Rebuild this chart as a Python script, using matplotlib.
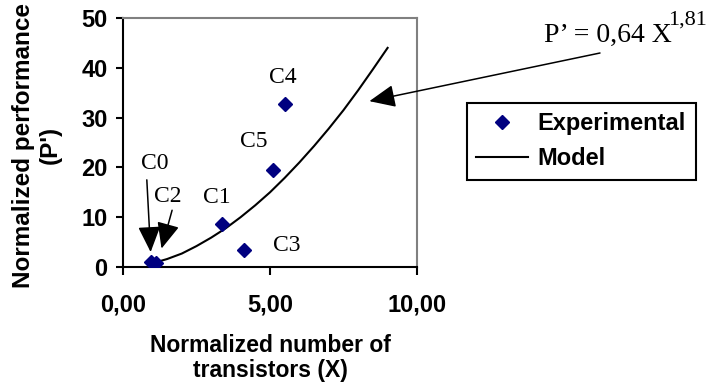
import matplotlib.pyplot as plt
from matplotlib.lines import Line2D
from matplotlib.ticker import FuncFormatter, MultipleLocator

# experimental points
configs = ["C0", "C1", "C2", "C3", "C4", "C5"]
transistors = [0.94, 3.36, 1.12, 4.12, 5.51, 5.11]
performance = [1.0, 8.6, 0.8, 3.4, 32.7, 19.5]

# model curve
model_x = [1, 1.5, 2, 2.5, 3, 3.5, 4, 4.5, 5, 5.5, 6, 6.5, 7, 7.5, 8, 8.5, 9]
model_y = [0.75, 1.6, 2.7, 4.2, 5.9, 7.8, 10.0, 12.4, 15.0, 17.9, 21.0, 24.3,
           27.8, 31.5, 35.5, 39.7, 44.0]

serif = "Liberation Serif"
sans = "Liberation Sans"
navy = "#000080"

fig = plt.figure(figsize=(7.1, 3.87), dpi=100)
ax = fig.add_axes([123 / 710, 120 / 387, 294 / 710, 249 / 387])

ax.plot(model_x, model_y, color="black", lw=1.5, zorder=2)
ax.plot(transistors, performance, linestyle="none", marker="D", markersize=7.5,
        color=navy, zorder=3)

ax.set_xlim(0, 10)
ax.set_ylim(0, 50)
ax.xaxis.set_major_locator(MultipleLocator(5))
ax.yaxis.set_major_locator(MultipleLocator(10))
ax.xaxis.set_major_formatter(FuncFormatter(lambda v, p: f"{v:.2f}".replace(".", ",")))
ax.yaxis.set_major_formatter(FuncFormatter(lambda v, p: f"{v:.0f}"))

for lab in ax.get_xticklabels() + ax.get_yticklabels():
    lab.set_fontfamily(sans)
    lab.set_fontweight("bold")
    lab.set_fontsize(17)
ax.tick_params(axis="x", length=6, width=1.5, pad=13, direction="out")
ax.tick_params(axis="y", length=5, width=1.5, pad=6, direction="out")

for s in ["left", "bottom"]:
    ax.spines[s].set_color("black")
    ax.spines[s].set_linewidth(1.5)
for s in ["top", "right"]:
    ax.spines[s].set_color("#808080")
    ax.spines[s].set_linewidth(1.5)

# point labels
label_pos = {"C0": (1.09, 20.7), "C1": (3.2, 14.0), "C2": (1.53, 14.2),
             "C3": (5.58, 4.4), "C4": (5.44, 38.0), "C5": (4.46, 25.3)}
for name in configs:
    x, y = label_pos[name]
    ax.text(x, y, name, family=serif, fontsize=17, ha="center", va="center")

arrow = dict(arrowstyle="-|>,head_length=0.8,head_width=0.35", mutation_scale=20,
             color="black", lw=1.1, shrinkA=0, shrinkB=0)
ax.annotate("", xy=(0.94, 3.0), xytext=(0.81, 17.5), arrowprops=arrow)
ax.annotate("", xy=(1.31, 3.7), xytext=(1.67, 11.4), arrowprops=arrow)
ax.annotate("", xy=(8.38, 33.3), xytext=(600, 387 - 53), textcoords="figure pixels",
            arrowprops=arrow, annotation_clip=False)

# equation
fig.text(544 / 710, 1 - 42 / 387, "P\u2019 = 0,64 X", family=serif, fontsize=20,
         ha="left", va="baseline")
fig.text(668 / 710, 1 - 25 / 387, "1,81", family=serif, fontsize=16,
         ha="left", va="baseline")

# axis labels
fig.text(37 / 710, 1 - 145 / 387, "Normalized performance\n(P')", family=sans,
         fontweight="bold", fontsize=17.5, rotation=90, ha="center", va="center",
         multialignment="center", linespacing=1.2)
fig.text(270 / 710, 1 - 358 / 387, "Normalized number of\ntransistors (X)", family=sans,
         fontweight="bold", fontsize=16.5, ha="center", va="center",
         multialignment="center", linespacing=1.12)

handles = [
    Line2D([], [], linestyle="none", marker="D", markersize=7.5, color=navy),
    Line2D([], [], color="black", lw=1.5),
]
leg = fig.legend(handles, ["Experimental", "Model"], loc="upper left",
                 bbox_to_anchor=(467 / 710, 1 - 103 / 387), borderaxespad=0,
                 prop={"family": sans, "weight": "bold", "size": 17},
                 handlelength=2.2, handletextpad=0.4, labelspacing=0.5,
                 borderpad=0.4, fancybox=False, framealpha=1)
leg.get_frame().set_edgecolor("black")
leg.get_frame().set_linewidth(1.5)

fig.savefig("out.png", dpi=100)
